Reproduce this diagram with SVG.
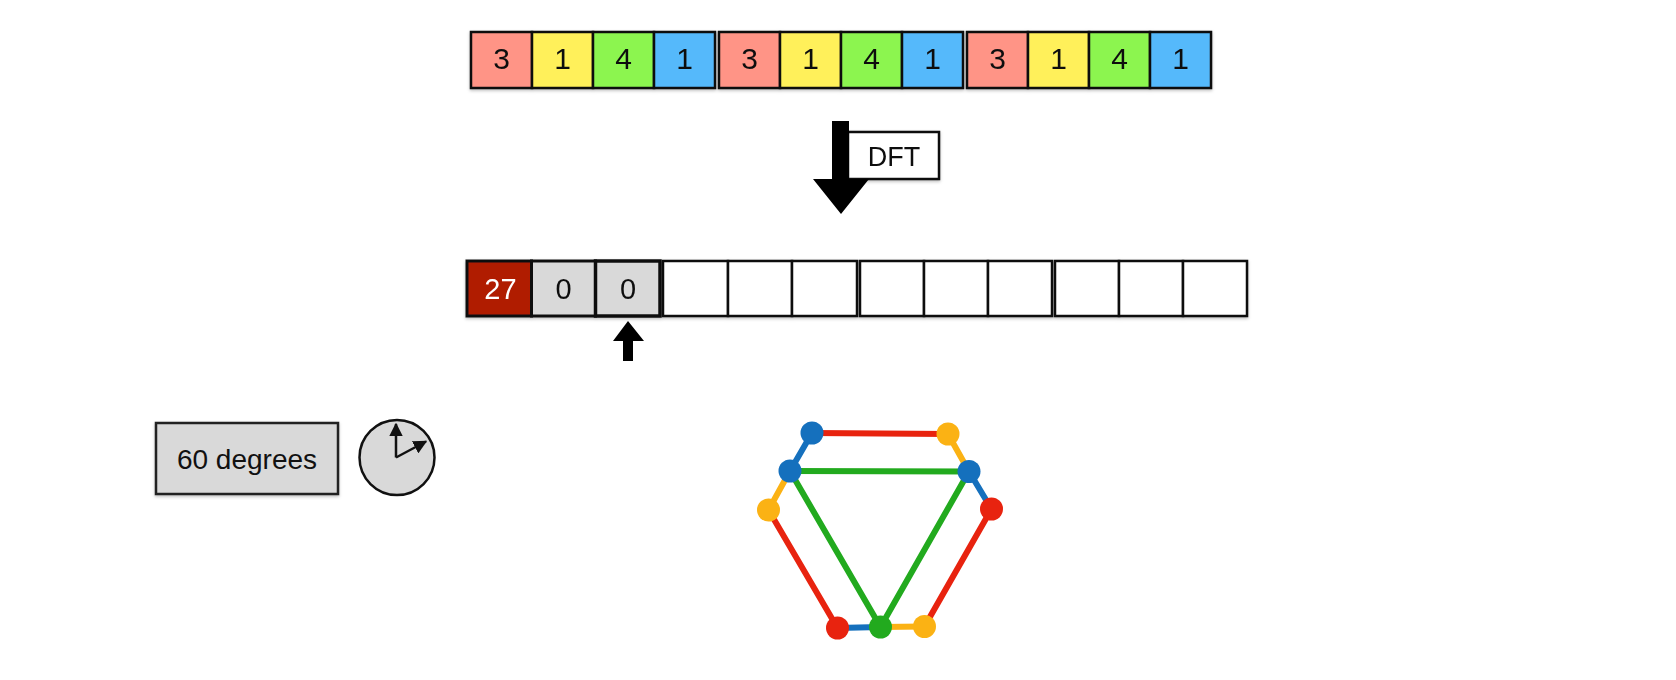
<svg xmlns="http://www.w3.org/2000/svg" width="1676" height="680" viewBox="0 0 1676 680">
<defs>
<style>
text{font-family:"Liberation Sans",Arial,sans-serif;text-anchor:middle;fill:#111}
.d{font-size:30px}
.m{font-size:29px}
.c{stroke:#111;stroke-width:2.5}
.r{fill:#ff9486}.y{fill:#fff05a}.g{fill:#8cf550}.b{fill:#55b9fb}
.w{fill:#fff}.gr{fill:#d9d9d9}
.e{stroke-width:6;stroke-linecap:round;fill:none}
.er{stroke:#e8230f}.eo{stroke:#fbb214}.eb{stroke:#1570bd}.eg{stroke:#22aa1e}
.nr{fill:#e8230f}.no{fill:#fbb214}.nb{fill:#1570bd}.ng{fill:#22aa1e}
</style>
<filter id="sh" x="-10%" y="-10%" width="120%" height="130%">
<feDropShadow dx="0" dy="1.5" stdDeviation="1.5" flood-color="#000" flood-opacity="0.25"/>
</filter>
<marker id="ah" viewBox="0 0 10 10" refX="9" refY="5" markerWidth="5.5" markerHeight="5.5" orient="auto" markerUnits="strokeWidth">
<path d="M0,0 L10,5 L0,10 z" fill="#111"/>
</marker>
</defs>
<rect width="1676" height="680" fill="#fff"/>

<g id="input-row">
<g id="in-group-1" filter="url(#sh)">
<rect x="471" y="32" width="61" height="56" class="c r"/>
<rect x="532" y="32" width="61" height="56" class="c y"/>
<rect x="593" y="32" width="61" height="56" class="c g"/>
<rect x="654" y="32" width="61" height="56" class="c b"/>
<text x="501.5" y="69" class="d">3</text>
<text x="562.5" y="69" class="d">1</text>
<text x="623.5" y="69" class="d">4</text>
<text x="684.5" y="69" class="d">1</text>
</g>
<g id="in-group-2" filter="url(#sh)">
<rect x="719" y="32" width="61" height="56" class="c r"/>
<rect x="780" y="32" width="61" height="56" class="c y"/>
<rect x="841" y="32" width="61" height="56" class="c g"/>
<rect x="902" y="32" width="61" height="56" class="c b"/>
<text x="749.5" y="69" class="d">3</text>
<text x="810.5" y="69" class="d">1</text>
<text x="871.5" y="69" class="d">4</text>
<text x="932.5" y="69" class="d">1</text>
</g>
<g id="in-group-3" filter="url(#sh)">
<rect x="967" y="32" width="61" height="56" class="c r"/>
<rect x="1028" y="32" width="61" height="56" class="c y"/>
<rect x="1089" y="32" width="61" height="56" class="c g"/>
<rect x="1150" y="32" width="61" height="56" class="c b"/>
<text x="997.5" y="69" class="d">3</text>
<text x="1058.5" y="69" class="d">1</text>
<text x="1119.5" y="69" class="d">4</text>
<text x="1180.5" y="69" class="d">1</text>
</g>
</g>

<g id="dft-label" filter="url(#sh)">
<rect x="848" y="132" width="91" height="47" fill="#fff" stroke="#111" stroke-width="2.5"/>
<text x="894" y="166" style="font-size:27px">DFT</text>
</g>

<g id="output-row">
<g id="out-group-1" filter="url(#sh)">
<rect x="467" y="261" width="64.5" height="55" fill="#b01a02" stroke="#111" stroke-width="3"/>
<rect x="531.5" y="261" width="64" height="55" class="gr" stroke="#111" stroke-width="3"/>
<rect x="595.5" y="261" width="64.5" height="55" class="gr" stroke="#111" stroke-width="3.5"/>
<text x="500.5" y="298.5" class="m" style="fill:#fff">27</text>
<text x="563.5" y="298.5" class="m">0</text>
<text x="628" y="298.5" class="m">0</text>
</g>
<g id="out-group-2" filter="url(#sh)">
<rect x="663" y="261" width="65" height="55" class="c w"/>
<rect x="728" y="261" width="64" height="55" class="c w"/>
<rect x="792" y="261" width="65" height="55" class="c w"/>
</g>
<g id="out-group-3" filter="url(#sh)">
<rect x="860" y="261" width="64" height="55" class="c w"/>
<rect x="924" y="261" width="64" height="55" class="c w"/>
<rect x="988" y="261" width="64" height="55" class="c w"/>
</g>
<g id="out-group-4" filter="url(#sh)">
<rect x="1055" y="261" width="64" height="55" class="c w"/>
<rect x="1119" y="261" width="64" height="55" class="c w"/>
<rect x="1183" y="261" width="64" height="55" class="c w"/>
</g>
</g>

<g id="rotation-label">
<rect x="156" y="423" width="182" height="71" class="gr" stroke="#222" stroke-width="2.5" filter="url(#sh)"/>
<text x="247" y="469" style="font-size:28px">60 degrees</text>
</g>

<g id="clock">
<circle cx="397" cy="457.5" r="37.5" fill="#d9d9d9" stroke="#111" stroke-width="2.5"/>
<line x1="396" y1="457.5" x2="396" y2="424" stroke="#111" stroke-width="2.5" marker-end="url(#ah)"/>
<line x1="396" y1="457.5" x2="426" y2="441.5" stroke="#111" stroke-width="2.5" marker-end="url(#ah)"/>
</g>

<g id="connectors">
<polygon points="832,121 849,121 849,179 869,179 841,214 813,179 832,179" fill="#000"/>
<polygon points="628,321 644,341 633,341 633,361 623,361 623,341 613,341" fill="#000"/>
<line x1="812" y1="433" x2="948" y2="434" class="e er"/>
<line x1="948" y1="434" x2="969" y2="471.5" class="e eo"/>
<line x1="969" y1="471.5" x2="991.5" y2="509" class="e eb"/>
<line x1="991.5" y1="509" x2="924.5" y2="626.5" class="e er"/>
<line x1="924.5" y1="626.5" x2="880.5" y2="627" class="e eo"/>
<line x1="880.5" y1="627" x2="837.5" y2="628" class="e eb"/>
<line x1="837.5" y1="628" x2="768.5" y2="510" class="e er"/>
<line x1="768.5" y1="510" x2="790" y2="471" class="e eo"/>
<line x1="790" y1="471" x2="812" y2="433" class="e eb"/>
<line x1="790" y1="471" x2="969" y2="471.5" class="e eg"/>
<line x1="790" y1="471" x2="880.5" y2="627" class="e eg"/>
<line x1="969" y1="471.5" x2="880.5" y2="627" class="e eg"/>
</g>

<g id="hex-nodes">
<g id="n1"><circle cx="812" cy="433" r="11.5" class="nb"/></g>
<g id="n2"><circle cx="948" cy="434" r="11.5" class="no"/></g>
<g id="n3"><circle cx="969" cy="471.5" r="11.5" class="nb"/></g>
<g id="n4"><circle cx="991.5" cy="509" r="11.5" class="nr"/></g>
<g id="n5"><circle cx="924.5" cy="626.5" r="11.5" class="no"/></g>
<g id="n6"><circle cx="880.5" cy="627" r="11.5" class="ng"/></g>
<g id="n7"><circle cx="837.5" cy="628" r="11.5" class="nr"/></g>
<g id="n8"><circle cx="768.5" cy="510" r="11.5" class="no"/></g>
<g id="n9"><circle cx="790" cy="471" r="11.5" class="nb"/></g>
</g>
</svg>
